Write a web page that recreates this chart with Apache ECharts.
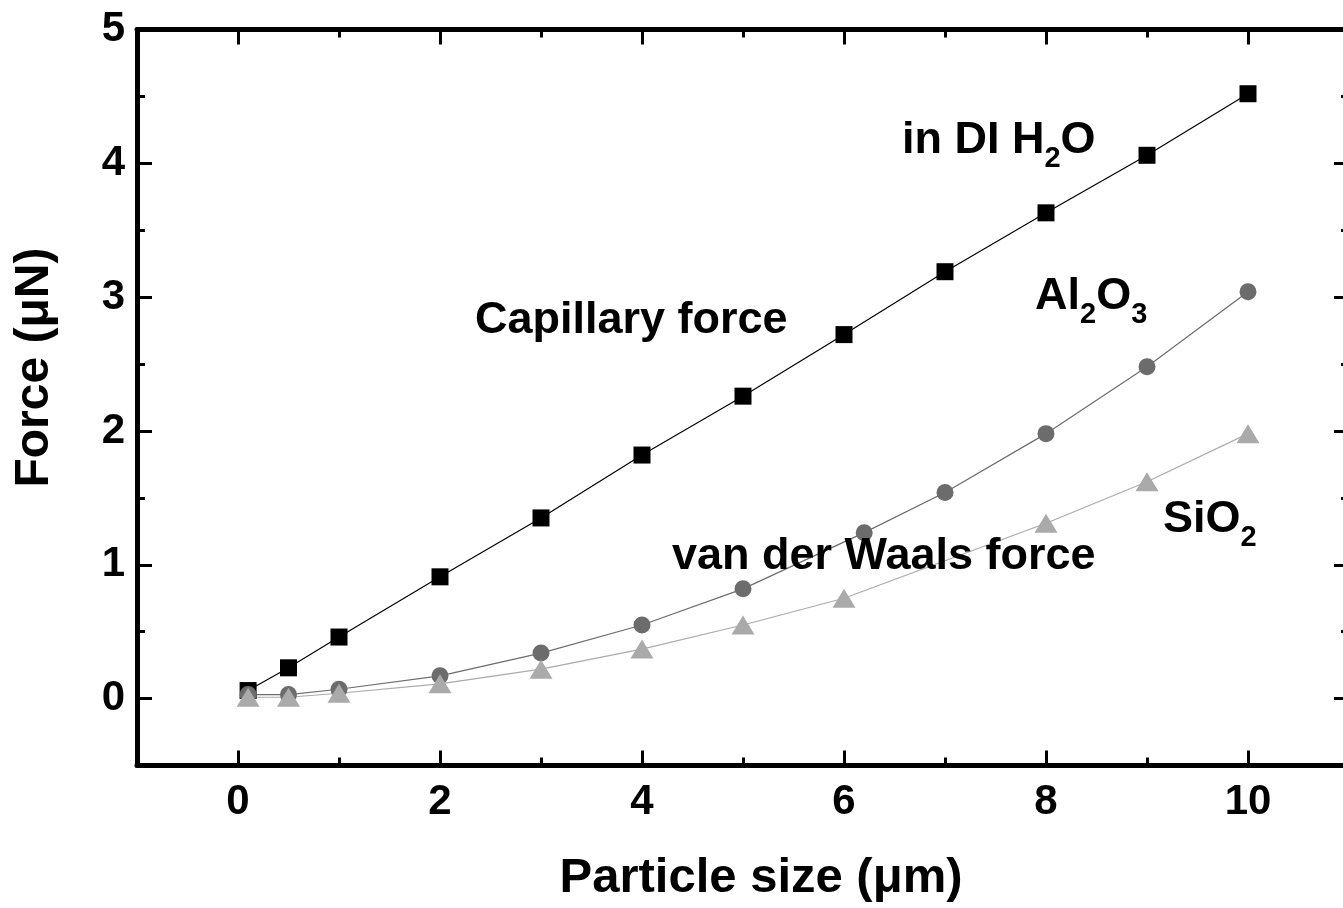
<!DOCTYPE html>
<html>
<head>
<meta charset="utf-8">
<script src="https://cdn.jsdelivr.net/npm/echarts@6/dist/echarts.min.js"></script>
<style>
  html, body { margin: 0; padding: 0; background: #fff; overflow: hidden; }
  #chart { width: 1360px; height: 908px; }
</style>
</head>
<body>
<div id="chart"></div>
<script>
// tick values
const xMajor = [0, 2, 4, 6, 8, 10];
const xMinor = [1, 3, 5, 7, 9];
const yMajor = [0, 1, 2, 3, 4, 5];
const yMinor = [0.5, 1.5, 2.5, 3.5, 4.5];

// capillary force in DI H2O (squares)
const capX = [0.1, 0.5, 1, 2, 3, 4, 5, 6, 7, 8, 9, 10];
const capY = [0.06, 0.23, 0.46, 0.91, 1.35, 1.82, 2.26, 2.72, 3.19, 3.63, 4.06, 4.52];
// van der Waals force, Al2O3 (circles)
const alX = [0.1, 0.5, 1, 2, 3, 4, 5, 6.2, 7, 8, 9, 10];
const alY = [0.03, 0.03, 0.07, 0.17, 0.34, 0.55, 0.82, 1.24, 1.54, 1.98, 2.48, 3.04];
// van der Waals force, SiO2 (triangles)
const siX = [0.1, 0.5, 1, 2, 3, 4, 5, 6, 8, 9, 10];
const siY = [0.01, 0.01, 0.04, 0.11, 0.22, 0.37, 0.55, 0.75, 1.31, 1.62, 1.98];

const FONT = '"Liberation Sans", Arial, sans-serif';
const pairs = (xs, ys) => xs.map((x, i) => [x, ys[i]]);

function axis(dim, position, ticks, len, opts) {
  const a = {
    type: 'value',
    position: position,
    min: dim === 'x' ? -1 : -0.5,
    max: dim === 'x' ? 11 : 5,
    splitLine: { show: false },
    axisLine: { show: !!opts.line, onZero: false, lineStyle: { color: '#000', width: 5 } },
    axisTick: { show: true, inside: true, length: len, customValues: ticks,
      lineStyle: { color: '#000', width: 3 } },
    axisLabel: { show: false }
  };
  if (opts.labels) {
    a.axisLabel = {
      show: true, customValues: ticks, color: '#000', fontFamily: FONT,
      fontWeight: 'bold', fontSize: 42, margin: dim === 'x' ? 16 : 12
    };
  }
  return Object.assign(a, opts.extra || {});
}

const chart = echarts.init(document.getElementById('chart'));

const sub = { fontSize: 29, fontWeight: 'bold', fontFamily: FONT, fill: '#000', padding: [36, 0, 0, 0] };
const norm = { fontSize: 45, fontWeight: 'bold', fontFamily: FONT, fill: '#000' };
function label(text, x, y) {
  return {
    type: 'text', x: x, y: y, z: 100,
    style: { text: text, align: 'left', verticalAlign: 'middle', fill: '#000',
      font: 'bold 45px ' + FONT, rich: { n: norm, s: sub } }
  };
}

chart.setOption({
  animation: false,
  backgroundColor: '#fff',
  grid: { left: 137, top: 29.5, width: 1212, height: 736, containLabel: false },
  xAxis: [
    axis('x', 'bottom', xMajor, 15, { line: true, labels: true, extra: {
      name: 'Particle size (μm)', nameLocation: 'middle', nameGap: 88,
      nameTextStyle: { color: '#000', fontFamily: FONT, fontWeight: 'bold', fontSize: 49, padding: [0, 0, 0, 36] }
    } }),
    axis('x', 'bottom', xMinor, 8, {}),
    axis('x', 'top', xMajor, 15, { line: true }),
    axis('x', 'top', xMinor, 8, {})
  ],
  yAxis: [
    axis('y', 'left', yMajor, 15, { line: true, labels: true, extra: {
      name: 'Force (μN)', nameLocation: 'middle', nameGap: 78,
      nameTextStyle: { color: '#000', fontFamily: FONT, fontWeight: 'bold', fontSize: 48, padding: [0, 0, 0, 60] }
    } }),
    axis('y', 'left', yMinor, 8, {}),
    axis('y', 'right', yMajor, 15, { line: true }),
    axis('y', 'right', yMinor, 8, {})
  ],
  series: [
    {
      name: 'Capillary force', type: 'line', data: pairs(capX, capY),
      symbol: 'rect', symbolSize: 17, itemStyle: { color: '#000' },
      lineStyle: { color: '#000', width: 1.2 }
    },
    {
      name: 'Al2O3', type: 'line', data: pairs(alX, alY),
      symbol: 'circle', symbolSize: 17, itemStyle: { color: '#6c6c6c' },
      lineStyle: { color: '#6c6c6c', width: 1.2 }
    },
    {
      name: 'SiO2', type: 'line', data: pairs(siX, siY),
      symbol: 'triangle', symbolSize: [23, 19], itemStyle: { color: '#aaaaaa' },
      lineStyle: { color: '#aaaaaa', width: 1.2 }
    }
  ],
  graphic: [
    label('{n|in DI H}{s|2}{n|O}', 902, 141),
    label('{n|Capillary force}', 475, 321),
    label('{n|Al}{s|2}{n|O}{s|3}', 1035, 297),
    label('{n|van der Waals force}', 672, 557),
    label('{n|SiO}{s|2}', 1163, 520)
  ]
});
</script>
</body>
</html>
